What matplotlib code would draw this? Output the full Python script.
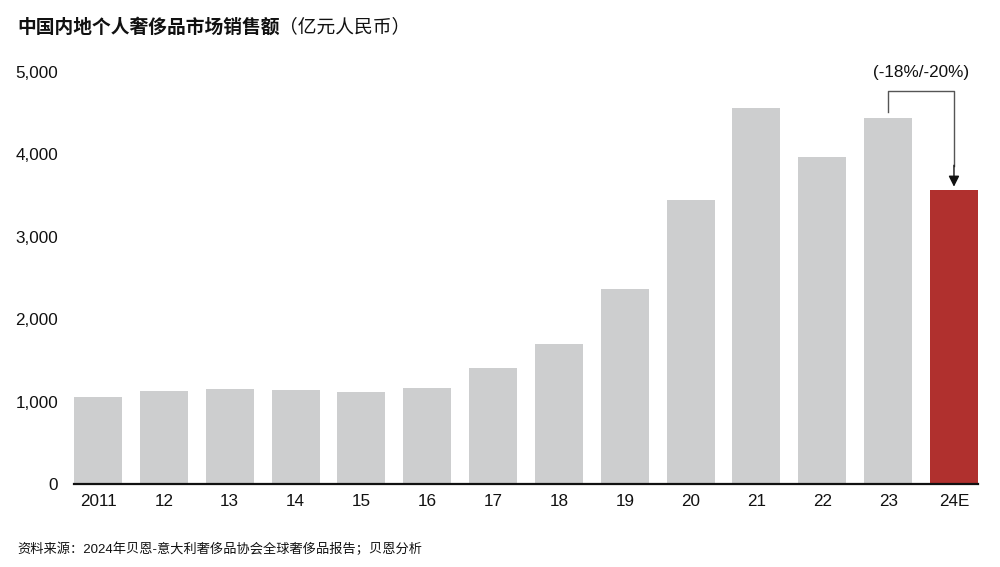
import matplotlib
matplotlib.use("Agg")
import matplotlib.pyplot as plt

categories = ["2011", "12", "13", "14", "15", "16", "17", "18", "19", "20", "21", "22", "23", "24E"]
values = [1056, 1129, 1153, 1141, 1117, 1165, 1408, 1699, 2367, 3447, 4563, 3968, 4442, 3568]
yticks = [0, 1000, 2000, 3000, 4000, 5000]
ytick_labels = ["0", "1,000", "2,000", "3,000", "4,000", "5,000"]
title_bold = "中国内地个人奢侈品市场销售额"
title_unit = "（亿元人民币）"
annotation = "(-18%/-20%)"
source = "资料来源：2024年贝恩-意大利奢侈品协会全球奢侈品报告；贝恩分析"

FAM = ["Liberation Sans", "Noto Sans CJK SC", "DejaVu Sans"]
CJK = ["Noto Sans CJK SC", "DejaVu Sans"]

fig = plt.figure(figsize=(10, 5.67), dpi=100)
ax = fig.add_axes([0.074, 0.1464, 0.904, 0.7266])

gray = "#CDCECF"
red = "#B0302E"
colors = [gray] * (len(values) - 1) + [red]
x = list(range(len(categories)))
ax.bar(x, values, width=0.73, color=colors, zorder=2)

ax.set_xlim(-0.365, len(categories) - 1 + 0.365)
ax.set_ylim(0, 5000)
ax.set_yticks(yticks)
ax.set_yticklabels(ytick_labels, family=FAM, fontsize=12.3, color="#111111")
ax.set_xticks(x)
ax.set_xticklabels(categories, family=FAM, fontsize=12.3, color="#111111")
ax.tick_params(axis="y", length=0, pad=11.5)
ax.tick_params(axis="x", length=0, pad=7)
for s in ["top", "right", "left"]:
    ax.spines[s].set_visible(False)
ax.spines["bottom"].set_linewidth(1.6)
ax.spines["bottom"].set_color("#111111")
ax.spines["bottom"].set_zorder(3)

# bracket annotation from 23 to 24E
i0, i1 = len(values) - 2, len(values) - 1
top_y = 4770
ax.plot([i0, i0, i1, i1], [values[i0] + 70, top_y, top_y, values[i1] + 290],
        color="#555555", lw=1.0, clip_on=False, zorder=4)
ax.annotate("", xy=(i1, values[i1] + 40), xytext=(i1, values[i1] + 300),
            arrowprops=dict(arrowstyle="-|>", color="#111111", lw=1.0,
                            mutation_scale=16, shrinkA=0, shrinkB=0),
            annotation_clip=False, zorder=5)
ax.text((i0 + i1) / 2, 4990, annotation, ha="center", va="center",
        family=FAM, fontsize=12.3, color="#111111", clip_on=False)

t1 = fig.text(0.017, 1 - 27 / 567, title_bold, ha="left", va="center",
              family=CJK, fontsize=13.5, fontweight="bold", color="#111111")
ax.annotate(title_unit, xy=(1, 0.5), xycoords=t1, ha="left", va="center",
            family=CJK, fontsize=13.5, color="#111111", annotation_clip=False)

fig.text(0.017, 1 - 549 / 567, source, ha="left", va="center",
         family=FAM, fontsize=9.5, color="#111111")

fig.savefig("out.png", dpi=100, facecolor="white")
